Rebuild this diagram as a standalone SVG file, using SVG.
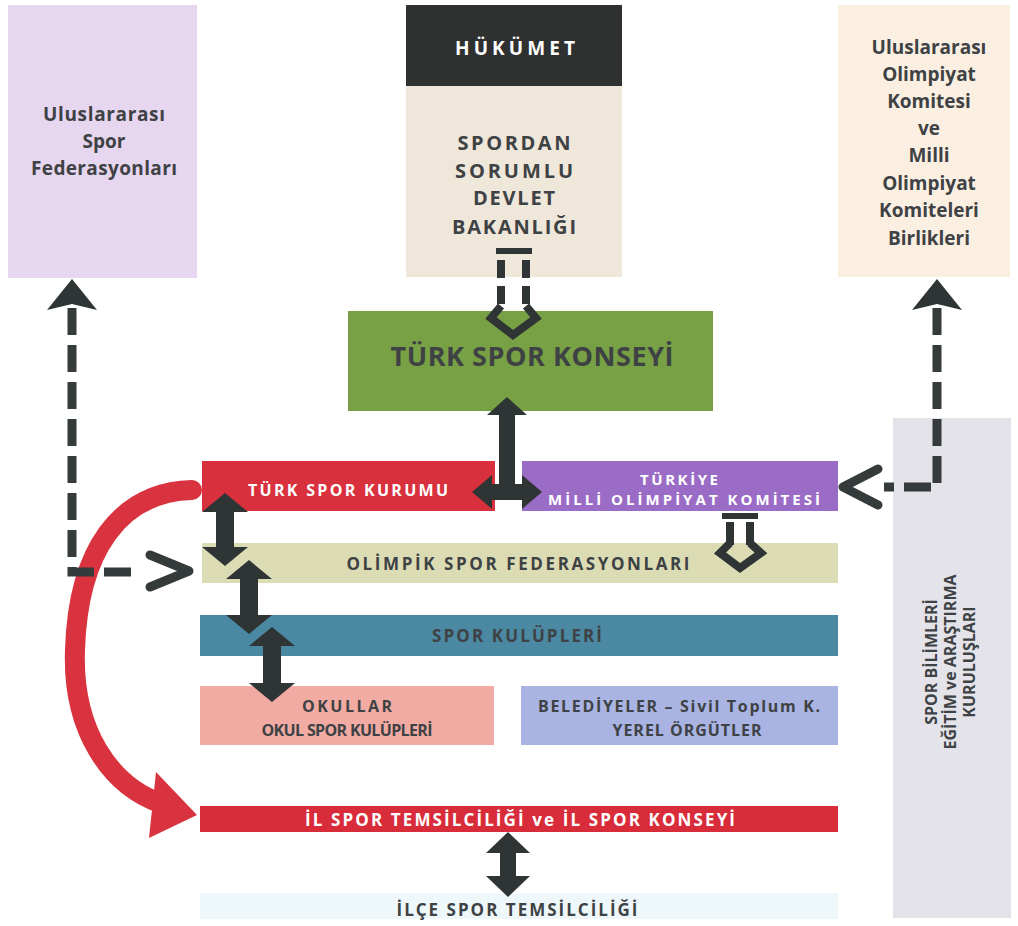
<svg xmlns="http://www.w3.org/2000/svg" width="1018" height="926" viewBox="0 0 1018 926">
<defs>
<style>
.t{font-family:"Open Sans","Liberation Sans",sans-serif;font-weight:700;fill:#3e4244;text-anchor:middle}
.w{fill:#ffffff}
.arr{fill:#2f3535}
.dash{fill:none;stroke:#353a3a;stroke-width:9;stroke-dasharray:27 10}
.chev{fill:none;stroke:#353a3a;stroke-width:9;stroke-linecap:round;stroke-linejoin:round}
.hol{fill:none;stroke:#2f3535;stroke-width:8}
</style>
</defs>
<rect width="1018" height="926" fill="#ffffff"/>

<g id="usf">
<rect x="8" y="5" width="189" height="273" fill="#e6d6ef"/>
<text class="t" x="104" y="121" font-size="19" textLength="122">Uluslararası</text>
<text class="t" x="104" y="148" font-size="19">Spor</text>
<text class="t" x="104" y="175" font-size="19" textLength="146">Federasyonları</text>
</g>

<g id="hukumet">
<rect x="406" y="5" width="216" height="81" fill="#2f3131"/>
<rect x="406" y="86" width="216" height="191" fill="#efe7da"/>
<text class="t w" x="515" y="55" font-size="19" textLength="120">HÜKÜMET</text>
<text class="t" x="514" y="150" font-size="20" textLength="113">SPORDAN</text>
<text class="t" x="514" y="178" font-size="20" textLength="118">SORUMLU</text>
<text class="t" x="514" y="205" font-size="20" textLength="82">DEVLET</text>
<text class="t" x="514" y="234" font-size="20" textLength="124">BAKANLIĞI</text>
</g>

<g id="iok">
<rect x="838" y="5" width="172" height="272" fill="#fbefe2"/>
<text class="t" x="929" y="54" font-size="19">Uluslararası</text>
<text class="t" x="929" y="81" font-size="19">Olimpiyat</text>
<text class="t" x="929" y="108" font-size="19">Komitesi</text>
<text class="t" x="929" y="135" font-size="19">ve</text>
<text class="t" x="929" y="162" font-size="19">Milli</text>
<text class="t" x="929" y="190" font-size="19">Olimpiyat</text>
<text class="t" x="929" y="217" font-size="19">Komiteleri</text>
<text class="t" x="929" y="245" font-size="19">Birlikleri</text>
</g>

<g id="tsk-konsey">
<rect x="348" y="311" width="365" height="100" fill="#77a144"/>
<text class="t" x="532" y="366" font-size="27" textLength="283" fill="#3a3f3a">TÜRK SPOR KONSEYİ</text>
</g>

<g id="tsk">
<rect x="202" y="461" width="293" height="50" fill="#d9303e"/>
<text class="t w" x="348" y="496" font-size="16" textLength="200">TÜRK SPOR KURUMU</text>
</g>

<g id="tmok">
<rect x="522" y="461" width="316" height="50" fill="#9b6cc6"/>
<text class="t w" x="679" y="485" font-size="15" textLength="78">TÜRKİYE</text>
<text class="t w" x="684" y="505" font-size="15" textLength="272">MİLLİ OLİMPİYAT KOMİTESİ</text>
</g>

<g id="osf">
<rect x="202" y="543" width="636" height="40" fill="#dcdcb4"/>
<text class="t" x="518" y="570" font-size="17" textLength="343">OLİMPİK SPOR FEDERASYONLARI</text>
</g>

<g id="kulup">
<rect x="200" y="615" width="638" height="41" fill="#4b88a2"/>
<text class="t" x="517" y="642" font-size="17" textLength="170" fill="#2f3f48">SPOR KULÜPLERİ</text>
</g>

<g id="okullar">
<rect x="200" y="686" width="294" height="59" fill="#f2aba3"/>
<text class="t" x="347" y="712" font-size="16" textLength="90">OKULLAR</text>
<text class="t" x="347" y="736" font-size="16" textLength="171">OKUL SPOR KULÜPLERİ</text>
</g>

<g id="belediye">
<rect x="521" y="686" width="317" height="59" fill="#a9b4e3"/>
<text class="t" x="679" y="712" font-size="16" textLength="282">BELEDİYELER – Sivil Toplum K.</text>
<text class="t" x="687" y="736" font-size="16" textLength="149">YEREL ÖRGÜTLER</text>
</g>

<g id="ilspor">
<rect x="200" y="806" width="638" height="26" fill="#d92c3a"/>
<text class="t w" x="520" y="826" font-size="17" textLength="430">İL SPOR TEMSİLCİLİĞİ ve İL SPOR KONSEYİ</text>
</g>

<g id="ilce">
<rect x="200" y="893" width="638" height="26" fill="#eef8fb"/>
<text class="t" x="517" y="916" font-size="17" textLength="241">İLÇE SPOR TEMSİLCİLİĞİ</text>
</g>

<g id="bilim">
<rect x="893" y="418" width="118" height="500" fill="#e3e3e9"/>
<g transform="translate(950,662) rotate(-90)">
<text class="t" x="0" y="-13" font-size="16">SPOR BİLİMLERİ</text>
<text class="t" x="0" y="6" font-size="16">EĞİTİM ve ARAŞTIRMA</text>
<text class="t" x="0" y="25" font-size="16">KURULUŞLARI</text>
</g>
</g>

<g id="connectors">
<path d="M192 490 C120 492 78 550 75 650 C72 730 110 785 160 803" fill="none" stroke="#d8333f" stroke-width="20" stroke-linecap="round"/>
<polygon points="156,772 197,815 149,838" fill="#d8333f"/>

<rect x="496" y="248" width="36" height="6" class="arr"/>
<line x1="501" y1="260" x2="501" y2="308" class="hol" stroke-dasharray="18 8"/>
<line x1="526" y1="260" x2="526" y2="308" class="hol" stroke-dasharray="18 8"/>
<polyline points="501,306 491,318 513,335 536,318 526,306" class="hol"/>

<rect x="722" y="513" width="36" height="6" class="arr"/>
<line x1="730" y1="522" x2="730" y2="545" class="hol"/>
<line x1="750" y1="522" x2="750" y2="545" class="hol"/>
<polyline points="730,543 720,553 740,568 761,553 750,543" class="hol"/>

<polygon class="arr" points="507,397 527,415 515,415 515,484 522,484 522,475 542,492 522,509 522,500 492,500 492,509 472,492 492,475 492,484 499,484 499,415 487,415"/>

<polygon class="arr" points="225,493 248,512 234,512 234,547 248,547 225,566 202,547 216,547 216,512 202,512"/>
<polygon class="arr" points="249,560 272,579 258,579 258,615 272,615 249,634 226,615 240,615 240,579 226,579"/>
<polygon class="arr" points="272,627 295,646 281,646 281,683 295,683 272,702 249,683 263,683 263,646 249,646"/>

<polygon class="arr" points="508,832 530,853 516,853 516,876 530,876 508,897 486,876 500,876 500,853 486,853"/>

<polygon class="arr" points="72,279 97,310 72,304 47,310"/>
<path d="M72 308 V572 H140" class="dash"/>
<polyline points="150,555 189,571 150,587" class="chev"/>

<polygon class="arr" points="937,279 962,310 937,304 912,310"/>
<path d="M937 308 V487 H884" class="dash"/>
<polyline points="878,469 843,487 878,505" class="chev"/>
</g>
</svg>
